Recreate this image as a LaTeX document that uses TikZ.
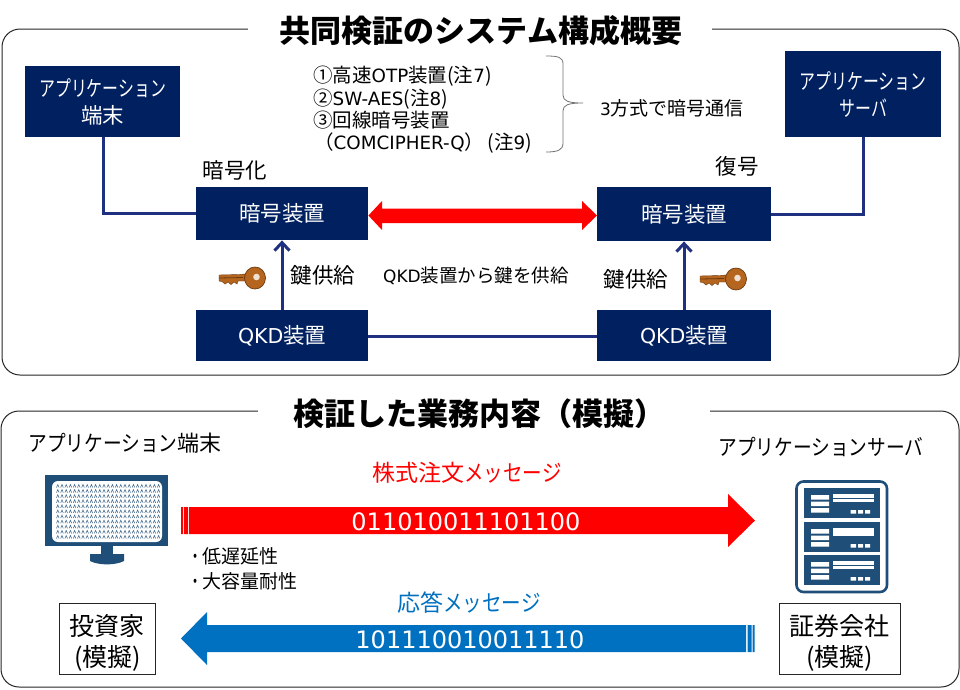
\documentclass[tikz,border=0pt]{standalone}
\usepackage{graphicx}
\usepackage{fontspec}
\setmainfont{Noto Sans CJK JP}
\newfontfamily\lat{DejaVu Sans}
\newcommand{\kn}[1]{\scalebox{0.74}[1]{#1}}
\newcommand{\kw}[1]{\scalebox{0.85}[1]{#1}}
\newcommand{\la}[1]{{\lat\fontsize{18.3}{22}\selectfont #1}}
\usetikzlibrary{arrows.meta}
\definecolor{navy}{HTML}{002060}
\definecolor{linkblue}{HTML}{1F3080}
\definecolor{iconblue}{HTML}{1F4E79}
\definecolor{msgblue}{HTML}{0070C0}
\definecolor{keyor}{HTML}{B5651D}
\definecolor{keydk}{HTML}{6B3A10}
\tikzset{
  x=1pt,y=-1pt,
  frame/.style={draw=black!85,line width=1pt,rounded corners=18pt},
  titlelbl/.style={fill=white,inner xsep=0pt,inner ysep=1pt,anchor=center,font=\fontsize{31}{33}\selectfont\bfseries},
  navybox/.style={fill=navy,draw=none,text=white,inner sep=0pt,align=center,font=\fontsize{21.5}{27}\selectfont},
  lbl/.style={inner sep=0pt,align=left,font=\fontsize{21.5}{25}\selectfont},
  link/.style={draw=linkblue,line width=3pt},
  plainbox/.style={draw=black!85,line width=0.9pt,fill=white,inner sep=0pt,align=center,font=\fontsize{25}{31}\selectfont},
  bignum/.style={inner sep=0pt,text=white,font=\lat\fontsize{24}{26}\selectfont},
}
\newcommand{\keyicon}[1]{%
 \begin{scope}[shift={(#1)}]
  \fill[keyor,draw=keydk,line width=.4pt] (-36,-3) -- (-16,-3.5) -- (-10,-4) -- (-10,3) -- (-17,3) -- (-18,6) -- (-21,4) -- (-24,6.5) -- (-27,4) -- (-30,6) -- (-33,3.5) -- (-36,3) -- cycle;
  \fill[keyor,draw=keydk,line width=.7pt] (0,0) ellipse (10.5 and 11);
  \fill[white!80!keyor] (1.5,-1) circle (3.3);
  \draw[keydk,line width=.8pt] (-36,0) -- (-12,-.5);
 \end{scope}}
\begin{document}
\begin{tikzpicture}
\useasboundingbox (0,0) rectangle (960,689);
\fill[white] (0,0) rectangle (960,689);
% frames
\draw[frame] (2,29) rectangle (959,375);
\draw[frame] (1,411) rectangle (959,687);
\fill[white] (248,20) rectangle (712,38);
\fill[white] (258,402) rectangle (710,420);
\node[titlelbl] (t1) at (481,31) {共同検証のシステム構成概要};
\node[titlelbl] (t2) at (479,414) {検証した業務内容（模擬）};
% top boxes
\node[navybox,minimum width=155pt,minimum height=71pt,anchor=north west] (appt) at (25,66) {\kn{アプリケーション}\\端末};
\node[navybox,minimum width=156pt,minimum height=86pt,anchor=north west] (apps) at (785,51) {\kn{アプリケーション}\\\kn{サーバ}};
\node[navybox,minimum width=172pt,minimum height=53pt,anchor=north west] (encl) at (196,187) {暗号装置};
\node[navybox,minimum width=174pt,minimum height=54pt,anchor=north west] (encr) at (597,187) {暗号装置};
\node[navybox,minimum width=172pt,minimum height=51pt,anchor=north west] (qkdl) at (196,310) {{\lat\fontsize{20.5}{25}\selectfont QKD}装置};
\node[navybox,minimum width=174pt,minimum height=51pt,anchor=north west] (qkdr) at (597,310) {{\lat\fontsize{20.5}{25}\selectfont QKD}装置};
% connectors
\draw[link] (appt.south -| 103,0) -- (103,213) -- (encl.west |- 0,213);
\draw[link] (apps.south -| 863,0) -- (863,214) -- (encr.east |- 0,214);
\draw[link] (qkdl.east |- 0,336) -- (qkdr.west |- 0,336);
\draw[link,-{Straight Barb[length=8pt,width=15pt,line width=3pt]}] (qkdl.north -| 282,0) -- (encl.south -| 282,0);
\draw[link,-{Straight Barb[length=8pt,width=15pt,line width=3pt]}] (qkdr.north -| 684,0) -- (encr.south -| 684,0);
\fill[red] (encl.east |- 0,215.5) -- (382,201) -- (382,208.5) -- (582,208.5) -- (582,201) -- (encr.west |- 0,215.5) -- (582,230) -- (582,223) -- (382,223) -- (382,230) -- cycle;
% labels top
\node[lbl,anchor=center] (l1) at (235,170) {暗号化};
\node[lbl,anchor=center] (l2) at (737,166) {復号};
\node[lbl,anchor=center] (l3) at (323,275) {鍵供給};
\node[lbl,anchor=center] (l4) at (636,279) {鍵供給};
\node[lbl,anchor=center,font=\fontsize{18.5}{22}\selectfont] (l5) at (476,276) {{\lat\fontsize{17}{22}\selectfont QKD}装置から鍵を供給};
\node[lbl,anchor=center,font=\fontsize{19}{22}\selectfont] (l6) at (672,108) {{\lat\fontsize{17}{22}\selectfont 3}方式で暗号通信};
\node[lbl,anchor=north west,font=\fontsize{19.5}{22.3}\selectfont] (l7) at (313,66) {①高速\la{OTP}装置(注\la{7})\\②\la{SW-AES}(注\la{8})\\③回線暗号装置\\\hspace*{1pt}（\la{COMCIPHER-Q}）\,(注\la{9})};
\draw[black!55,line width=.8pt] (546,56) .. controls (558,56) and (563,57) .. (563,64) -- (563,95) .. controls (563,101) and (568,103) .. (583,103) .. controls (568,103) and (563,105) .. (563,111) -- (563,143) .. controls (563,150) and (558,152) .. (546,152);
\keyicon{255,278}
\keyicon{736,279}
% lower labels
\node[lbl,anchor=center,font=\fontsize{22}{25}\selectfont] (c1) at (125,443) {\kw{アプリケーション}端末};
\node[lbl,anchor=center,font=\fontsize{22}{25}\selectfont] (c2) at (821,447) {\kw{アプリケーションサーバ}};
\node[lbl,anchor=center,text=red,font=\fontsize{23}{25}\selectfont] (c3) at (467,473) {株式注文\kw{メッセージ}};
\node[lbl,anchor=center,text=msgblue,font=\fontsize{23}{25}\selectfont] (c4) at (469,603) {応答\kw{メッセージ}};
\node[lbl,anchor=north west,font=\fontsize{19}{25}\selectfont] (c5) at (188,547) {\kn{・}低遅延性\\\kn{・}大容量耐性};
% big arrows
\fill[red] (189,507) -- (728,507) -- (728,494) -- (755,520.5) -- (728,547) -- (728,534) -- (189,534) -- cycle;
\fill[red] (181,507) rectangle (183,534) (184,507) rectangle (188,534);
\fill[msgblue] (746,625) -- (207,625) -- (207,612) -- (181,638.5) -- (207,665) -- (207,652) -- (746,652) -- cycle;
\fill[msgblue] (747.5,625) rectangle (751.5,652) (752.5,625) rectangle (754.5,652);
\node[bignum] (n1) at (466,522) {011010011101100};
\node[bignum] (n2) at (470,640) {101110010011110};
% monitor
\fill[iconblue] (45,475) rectangle (168,546);
\fill[iconblue] (101,546) rectangle (113,555);
\fill[iconblue] (90,554) -- (124,554) -- (124,561) .. controls (115,565.5) and (99,565.5) .. (90,561) -- cycle;
\fill[white] (52,481) [rounded corners=6pt] rectangle (162,542);
\begin{scope}[iconblue!85,line width=.55pt]
\foreach \r in {0,...,10}{
 \foreach \c in {0,...,24}{
  \draw ({56.5+\c*4.2},{487.5+\r*5.1}) -- ++(1.3,-3) -- ++(1.3,3);
 }}
\end{scope}
% server
\draw[iconblue,line width=2.6pt,fill=white,rounded corners=7pt] (796.5,481.5) rectangle (887,592);
\foreach \y/\v in {488/0,522/1,555/0}{
 \begin{scope}[shift={(804,\y)}]
  \fill[iconblue] (0,0) rectangle (76,30);
  \fill[white] (7,7) rectangle (25,11.5) (7,13.5) rectangle (25,18) (7,20) rectangle (25,24.5);
  \fill[white] (29,6) rectangle (70,14);
  \ifnum\v=0 \fill[iconblue] (29,10) rectangle (70,10.9);\fi
  \fill[white] (46.5,22) rectangle (52,25.5) (54,22) rectangle (59,25.5) (61,22) rectangle (66,25.5);
 \end{scope}}
% plain boxes
\node[plainbox,minimum width=96pt,minimum height=71pt,anchor=north west] (inv) at (59,603) {\rule{0pt}{28pt}投資家\\(模擬)};
\node[plainbox,minimum width=121pt,minimum height=71pt,anchor=north west] (sec) at (779,603) {\rule{0pt}{28pt}証券会社\\(模擬)};
\end{tikzpicture}
\end{document}
